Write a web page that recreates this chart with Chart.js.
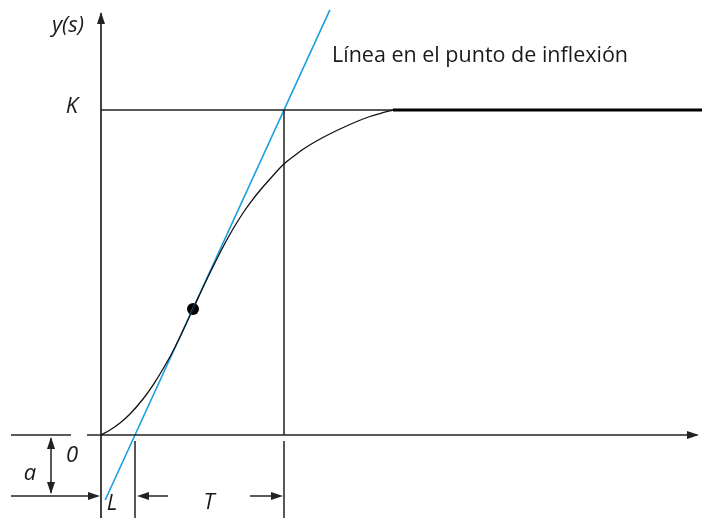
<!DOCTYPE html>
<html><head><meta charset="utf-8">
<script src="https://cdn.jsdelivr.net/npm/chart.js@4/dist/chart.umd.min.js"></script>
<style>html,body{margin:0;padding:0;background:#fff}canvas{display:block}</style>
</head><body>
<canvas id="c" width="702" height="518"></canvas>
<script>
// ---- data (time t, response y; K = 1) ----
const curveT = [0, 0.18, 0.38, 0.58, 0.84, 1.04, 1.24, 1.42, 1.58, 1.84, 2.12, 2.44, 2.64, 2.84, 2.98, 3.22, 3.38, 3.54, 3.68, 3.94, 4.08, 4.42, 4.78, 5.14, 5.38, 5.58, 5.84];
const curveY = [0, 0.0154, 0.0369, 0.0646, 0.1108, 0.1538, 0.2031, 0.2523, 0.3015, 0.3877, 0.48, 0.5785, 0.6338, 0.6831, 0.7138, 0.76, 0.7877, 0.8154, 0.8369, 0.8677, 0.8831, 0.9138, 0.9415, 0.9662, 0.98, 0.9892, 1];
const steadyT = [5.84, 12.02];
const K = 1;
const L = 0.68;
const T = 2.98;
const inflection = [1.84, 0.388];
const tangentY = [-0.2, 1.308];
const xRange = [-2.02, 12.02];
const yRange = [-0.2554, 1.3385];
const labels = [
  {text: 'y(s)', t: -0.66, y: 1.24, italic: true, align: 'center'},
  {text: 'K', t: -0.58, y: 0.9908, italic: true, align: 'center'},
  {text: '0', t: -0.58, y: -0.0831, italic: true, align: 'center'},
  {text: 'a', t: -1.42, y: -0.1385, italic: true, align: 'center'},
  {text: 'L', t: 0.22, y: -0.2308, italic: true, align: 'center'},
  {text: 'T', t: 2.16, y: -0.2277, italic: true, align: 'center'},
  {text: 'Línea en el punto de inflexión', t: 4.62, y: 1.1477, italic: false, align: 'left'}
];

const axisColor = '#222';
const seg = (pts, color, width) => ({
  data: pts.map(p => ({x: p[0], y: p[1]})), showLine: true, pointRadius: 0,
  borderColor: color, borderWidth: width, backgroundColor: color, tension: 0
});
const tAtY = y => L + y * T / K;
const yBot = yRange[0];
const arrowY = -0.1877;
const gapY = -0.0185;

const datasets = [
  // S curve
  Object.assign(seg(curveT.map((t, i) => [t, curveY[i]]), '#111', 1.3), {cubicInterpolationMode: 'monotone'}),
  seg([[steadyT[0], K], [steadyT[1], K]], '#000', 3.2),
  // axes
  seg([[0, yBot], [0, 1.298]], axisColor, 1.7),
  seg([[-1.8, 0], [-0.6, 0]], axisColor, 1.7),
  seg([[-0.28, 0], [11.92, 0]], axisColor, 1.7),
  // K line
  seg([[0, K], [xRange[1], K]], axisColor, 1.5),
  // T verticals
  seg([[L + T, K], [L + T, 0]], axisColor, 1.5),
  seg([[L + T, gapY], [L + T, yBot]], axisColor, 1.5),
  seg([[L, gapY], [L, yBot]], axisColor, 1.5),
  // bottom arrow shafts
  seg([[-1.8, arrowY], [-0.1, arrowY]], axisColor, 1.5),
  seg([[-1.0, -0.01], [-1.0, -0.178]], axisColor, 1.5),
  seg([[1.34, arrowY], [L + 0.1, arrowY]], axisColor, 1.5),
  seg([[2.98, arrowY], [L + T - 0.08, arrowY]], axisColor, 1.5),
  // tangent
  seg([[tAtY(tangentY[0]), tangentY[0]], [tAtY(tangentY[1]), tangentY[1]]], '#1a9fe0', 1.6),
  // inflection point
  {data: [{x: inflection[0], y: inflection[1]}], showLine: false, pointRadius: 6, backgroundColor: '#000', borderColor: '#000', borderWidth: 0}
];

const arrowHeads = [
  {tip: [0, 1.3015], dir: 'up'},
  {tip: [11.96, 0], dir: 'right'},
  {tip: [-0.02, arrowY], dir: 'right'},
  {tip: [-1.0, -0.006], dir: 'up'},
  {tip: [-1.0, -0.1815], dir: 'down'},
  {tip: [L + 0.04, arrowY], dir: 'left'},
  {tip: [L + T - 0.02, arrowY], dir: 'right'}
];

const annot = {
  id: 'annot',
  afterDatasetsDraw(chart) {
    const {ctx, scales: {x, y}} = chart;
    ctx.save();
    ctx.fillStyle = axisColor;
    arrowHeads.forEach(a => {
      const px = x.getPixelForValue(a.tip[0]), py = y.getPixelForValue(a.tip[1]);
      const len = 12, hw = 4;
      ctx.beginPath();
      ctx.moveTo(px, py);
      if (a.dir === 'up') { ctx.lineTo(px - hw, py + len); ctx.lineTo(px + hw, py + len); }
      if (a.dir === 'down') { ctx.lineTo(px - hw, py - len); ctx.lineTo(px + hw, py - len); }
      if (a.dir === 'right') { ctx.lineTo(px - len, py - hw); ctx.lineTo(px - len, py + hw); }
      if (a.dir === 'left') { ctx.lineTo(px + len, py - hw); ctx.lineTo(px + len, py + hw); }
      ctx.closePath();
      ctx.fill();
    });
    ctx.textBaseline = 'alphabetic';
    labels.forEach(l => {
      ctx.font = l.italic ? 'italic 22px "Open Sans", sans-serif' : '21.5px "Open Sans", sans-serif';
      ctx.fillStyle = '#1a1a1a';
      ctx.textAlign = l.align;
      ctx.fillText(l.text, x.getPixelForValue(l.t), y.getPixelForValue(l.y));
    });
    ctx.restore();
  }
};

new Chart(document.getElementById('c'), {
  type: 'scatter',
  data: {datasets},
  options: {
    responsive: false, animation: false, devicePixelRatio: 1,
    layout: {padding: 0, autoPadding: false},
    scales: {
      x: {type: 'linear', min: xRange[0], max: xRange[1], display: false},
      y: {type: 'linear', min: yRange[0], max: yRange[1], display: false}
    },
    plugins: {legend: {display: false}, tooltip: {enabled: false}}
  },
  plugins: [annot]
});
</script>
</body></html>
